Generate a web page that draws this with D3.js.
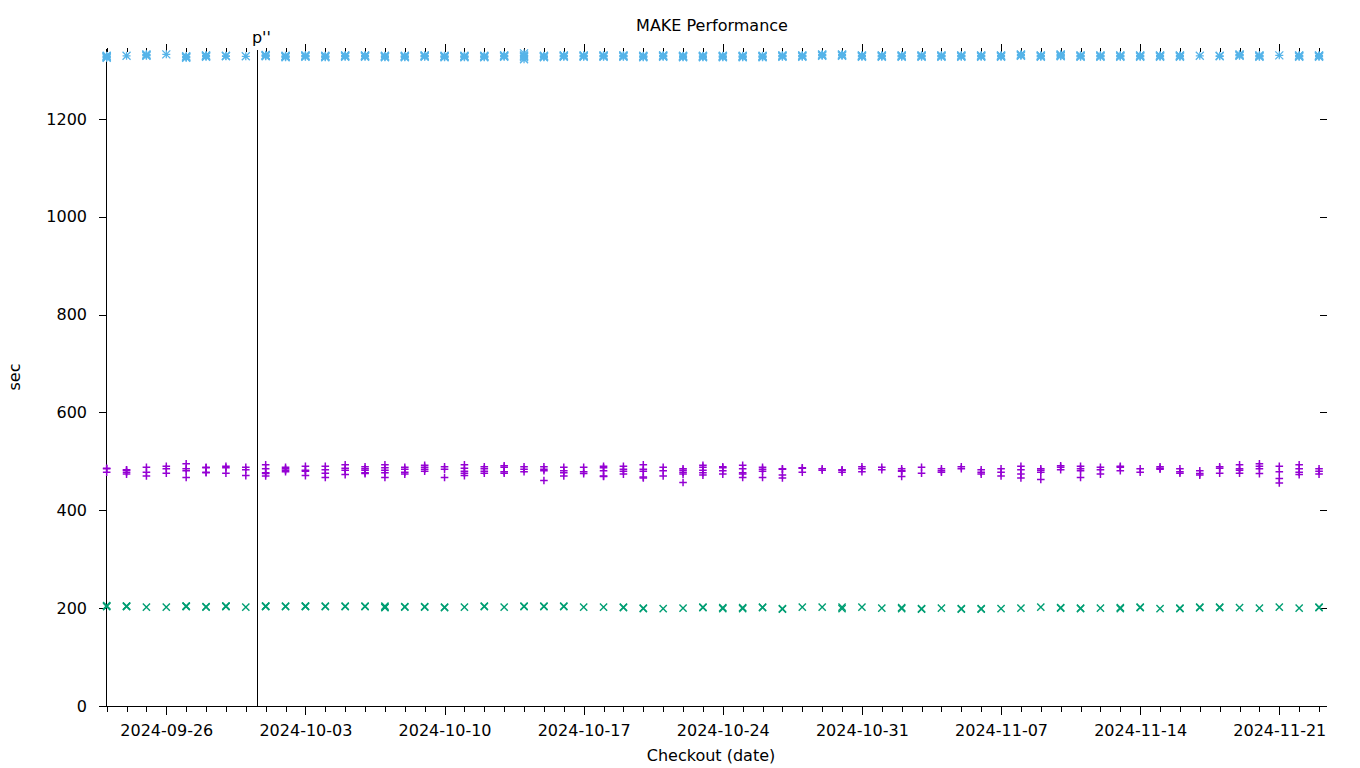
<!DOCTYPE html>
<html><head><meta charset="utf-8">
<script src="https://cdn.jsdelivr.net/npm/d3@7"></script>
<style>
body{margin:0;background:#fff;}
svg text{font-family:"DejaVu Sans",sans-serif;font-size:16px;fill:#000;}
</style></head>
<body><svg id="chart" width="1360" height="768"></svg>
<script>
// ---------- data ----------
const title = "MAKE Performance";
const xTitle = "Checkout (date)";
const yTitle = "sec";
const firstDay = "2024-09-23";           // day index 0
const xDomain = ["2024-09-22T23:11:00Z", "2024-11-23T09:00:00Z"];
const yDomain = [0, 1345];
const yTicks = [0, 200, 400, 600, 800, 1000, 1200];
const xTickLabels = ["2024-09-26","2024-10-03","2024-10-10","2024-10-17","2024-10-24","2024-10-31","2024-11-07","2024-11-14","2024-11-21"];
const markerLabel = "p''";
const markerDate = "2024-09-30T14:40:00Z";

// purple "+" series, one list of runs per day
const seriesPurple = [
 [486,485,478],[483,482,478,474],[488,478,470],[490,485,476],[495,485,481,467],
 [488,487,478,477],[490,487,476],[488,483,471],[493,485,477,475,470],[488,485,482,479],
 [490,482,480,471],[490,483,476,467],[493,486,482,473],[489,485,482,477,475],[493,487,482,477,467],
 [488,484,478,474],[492,488,484,480],[489,484,467],[493,486,480,476,471],[489,485,480,476],
 [491,488,479,476],[489,484,479],[489,484,481,461],[488,481,477,470],[488,479,475],
 [490,487,481,470,469],[490,484,480,474],[493,484,480,468,466],[488,481,470],[485,482,478,474,457],
 [492,488,482,477,472],[489,487,481,474],[492,485,477,474,467],[488,484,480,467],[485,484,472,466],
 [487,486,478],[485,482],[483,482,478],[489,485,479],[488,483],
 [485,481,480,469],[488,476],[485,481,478],[489,485],[483,478,474],
 [485,478,470],[490,483,474,466],[485,482,478,463],[491,488,483],[490,485,481,467],
 [488,483,474],[490,488,481],[485,478],[489,486,484],[485,479,476],
 [481,475,472],[489,486,476],[493,485,482,476],[495,490,485,475],[490,479,465,456],
 [493,485,478,473],[485,480,474]
];
// green "x" series
const seriesGreen = [
 [205,204,203],[204,204,203],[202],[202],[204,203,204],
 [203,202],[204,204,203],[202],[204,203,204],[204,203],
 [204,204,203],[204,203],[204,203],[204,203],[204,202,201],
 [203,202],[203,202],[202,201],[202],[204,203],
 [202],[204,203],[204,203],[204,203],[202],
 [202],[202,201],[200,199],[199],[200],
 [202,201],[201,199],[201,199],[202,201],[199,198],
 [202],[202],[202,199],[202],[200],
 [201,199],[199,198],[200],[199,198],[199,198],
 [199],[200],[202],[201,200],[200,199],
 [200],[201,199],[202,201],[199],[200,199],
 [202,201],[202,201],[201],[200],[202],
 [200],[202,201]
];
// blue "*" series
const seriesBlue = [
 [1329,1328,1327,1326,1325],[1329],[1332,1331,1330,1329],[1332],[1328,1327,1326,1325],
 [1330,1329,1328,1327],[1329,1328],[1328],[1331,1330,1329,1328],[1329,1328,1327,1326],
 [1330,1329,1328,1327],[1329,1328,1327,1326],[1330,1329,1328,1327],[1330,1329,1328,1327],[1329,1328,1327,1326],
 [1329,1328,1327,1326],[1330,1329,1328,1327],[1329,1328,1327,1326],[1329,1328,1327,1326],[1329,1328,1327,1326],
 [1330,1329,1328,1327],[1334,1330,1328,1326,1322],[1329,1328,1327,1326],[1330,1329,1328,1327],[1330,1329,1328,1327],
 [1330,1329,1328,1327],[1330,1329,1328,1327],[1329,1328,1327,1326],[1330,1329,1328,1327],[1329,1328,1327,1326],
 [1329,1328,1327,1326],[1329,1328,1327,1326],[1329,1328,1327,1326],[1329,1328,1327,1326],[1330,1329,1328,1327],
 [1330,1329,1328,1327],[1332,1331,1330,1329],[1332,1331,1330,1329],[1330,1329,1328,1327],[1330,1329,1328,1327],
 [1330,1329,1328,1327],[1330,1329,1328,1327],[1330,1329,1328,1327],[1330,1329,1328,1327],[1330,1329,1328,1327],
 [1330,1329,1328,1327],[1332,1331,1330,1329],[1330,1329,1328,1327],[1332,1331,1330,1329,1328],[1330,1329,1328,1327],
 [1330,1329,1328,1327],[1330,1329,1328,1327],[1330,1329,1328,1327],[1330,1329,1328,1327],[1330,1329,1328,1327],
 [1329],[1329,1328],[1332,1331,1330,1329],[1330,1329,1328,1327],[1330],
 [1330,1329,1328,1327],[1330,1329,1328,1327]
];

// ---------- drawing ----------
const svg = d3.select("#chart");
const L = 106, R = 1326.5, B = 706, T = 48;
const day0 = new Date(firstDay + "T00:00:00Z");
const dayOf = i => d3.utcDay.offset(day0, i);

const x = d3.scaleUtc().domain(xDomain.map(s => new Date(s))).range([L, R]);
const y = d3.scaleLinear().domain(yDomain).range([B, T]);

const majorDates = xTickLabels.map(s => new Date(s + "T00:00:00Z"));
const minorDates = d3.utcDay.range(x.domain()[0], x.domain()[1]).map(d => d3.utcDay.ceil(d))
  .filter(d => d >= x.domain()[0] && d <= x.domain()[1]);

function styleAxis(g){
  g.selectAll("path,line").attr("stroke","#000").attr("stroke-width",1).attr("shape-rendering","crispEdges");
  g.selectAll("text").attr("font-family",null).attr("font-size",null).attr("fill","#000");
  g.attr("font-family",null).attr("font-size",null);
}

// bottom minor ticks
svg.append("g").attr("transform",`translate(0,${B})`)
  .call(d3.axisBottom(x).tickValues(minorDates).tickSize(6).tickFormat(""))
  .call(g => g.select(".domain").remove()).call(styleAxis);
// bottom major ticks + labels
svg.append("g").attr("transform",`translate(0,${B})`)
  .call(d3.axisBottom(x).tickValues(majorDates).tickSize(9).tickSizeOuter(0).tickPadding(9.5)
    .tickFormat(d3.utcFormat("%Y-%m-%d")))
  .call(styleAxis);
// top mirrored ticks
svg.append("g").attr("transform",`translate(0,52)`)
  .call(d3.axisTop(x).tickValues(minorDates).tickSize(4).tickFormat(""))
  .call(g => g.select(".domain").remove()).call(styleAxis);
svg.append("g").attr("transform",`translate(0,52)`)
  .call(d3.axisTop(x).tickValues(majorDates).tickSize(8).tickFormat(""))
  .call(g => g.select(".domain").remove()).call(styleAxis);
// left axis
svg.append("g").attr("transform",`translate(${L},0)`)
  .call(d3.axisLeft(y).tickValues(yTicks).tickSize(7).tickSizeOuter(0).tickPadding(12).tickFormat(d3.format("d")))
  .call(styleAxis);
// right mirrored ticks
svg.append("g").attr("transform",`translate(${R},0)`)
  .call(d3.axisRight(y).tickValues(yTicks).tickSize(-7).tickFormat(""))
  .call(g => g.select(".domain").remove()).call(styleAxis);

// vertical marker line
const mx = x(new Date(markerDate));
svg.append("line").attr("x1",mx).attr("x2",mx).attr("y1",50).attr("y2",B)
  .attr("stroke","#000").attr("stroke-width",1).attr("shape-rendering","crispEdges");
svg.append("text").attr("x",mx-6).attr("y",43).text(markerLabel);

// markers
const plusPath = h => `M${-h},0H${h}M0,${-h}V${h}`;
const crossPath = h => `M${-h},${-h}L${h},${h}M${-h},${h}L${h},${-h}`;
function drawSeries(data, color, path, sw){
  const pts = [];
  data.forEach((runs, i) => runs.forEach(v => pts.push({d: dayOf(i), v})));
  svg.append("g").selectAll("path").data(pts).join("path")
    .attr("transform", p => `translate(${x(p.d)},${y(p.v)})`)
    .attr("d", path)
    .attr("fill","none").attr("stroke",color).attr("stroke-width",sw);
}
drawSeries(seriesPurple, "#9400d3", plusPath(3.8), 1.5);
drawSeries(seriesGreen, "#009e73", crossPath(3.6), 1.4);
drawSeries(seriesBlue, "#56b4e9", plusPath(4) + crossPath(4), 1.3);

// titles
svg.append("text").attr("x",712).attr("y",31).attr("text-anchor","middle").text(title);
svg.append("text").attr("x",711).attr("y",761).attr("text-anchor","middle").text(xTitle);
svg.append("text").attr("transform","translate(20,377) rotate(-90)").attr("text-anchor","middle").text(yTitle);
</script>
</body></html>
